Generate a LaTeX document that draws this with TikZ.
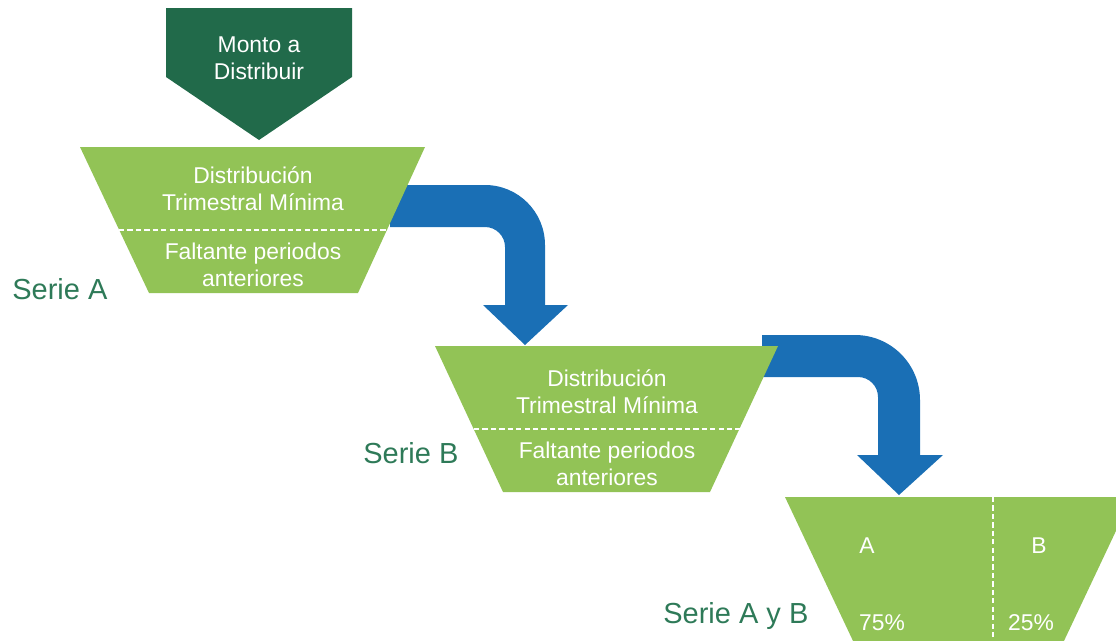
\documentclass[tikz,border=0pt]{standalone}
\usepackage{fontspec}
\setmainfont{Liberation Sans}
\definecolor{montogreen}{HTML}{216A4A}
\definecolor{funnelgreen}{HTML}{92C356}
\definecolor{flowblue}{HTML}{1A6FB5}
\definecolor{seriegreen}{HTML}{2E7A58}
\tikzset{
  intext/.style={text=white,font=\fontsize{13}{15.5}\selectfont,align=center,inner sep=0pt},
  serielabel/.style={text=seriegreen,font=\fontsize{16.5}{19}\selectfont,anchor=base west,inner sep=0pt},
  splitline/.style={white,line width=1.1pt,dash pattern=on 3pt off 1.8pt}
}
\begin{document}
\begin{tikzpicture}[x=0.02cm,y=-0.02cm]
    \clip (0,0) rectangle (1116,640);

    % monto a distribuir
    \fill[montogreen] (166,8) -- (352,8) -- (352,77) -- (259,140) -- (166,77) -- cycle;
    \node[intext] (monto) at (259,58) {Monto a\\Distribuir};

    % blue arrows behind the funnels
    \fill[flowblue] (390,185) -- (485,185) arc[start angle=270,end angle=360,radius=60]
        -- (545,305) -- (568,305) -- (525,345) -- (483,305) -- (505,305) -- (505,247)
        arc[start angle=0,end angle=-90,radius=20] -- (390,227) -- cycle;
    \fill[flowblue] (762,335) -- (855,335) arc[start angle=270,end angle=360,radius=65]
        -- (920,455) -- (943,455) -- (899,495) -- (857,455) -- (878,455) -- (878,397)
        arc[start angle=0,end angle=-90,radius=20] -- (762,377) -- cycle;

    % serie A
    \fill[funnelgreen] (80,147) -- (425,147) -- (358,293) -- (149,293) -- cycle;
    \draw[splitline] (119,230) -- (387,230);
    \node[intext] (minA) at (253,189) {Distribución\\Trimestral Mínima};
    \node[intext] (faltA) at (253,265) {Faltante periodos\\anteriores};
    \node[serielabel] (serieA) at (12,299) {Serie A};

    % serie B
    \fill[funnelgreen] (435,346) -- (778,346) -- (710,492) -- (503,492) -- cycle;
    \draw[splitline] (474,429) -- (740,429);
    \node[intext] (minB) at (607,392) {Distribución\\Trimestral Mínima};
    \node[intext] (faltB) at (607,464) {Faltante periodos\\anteriores};
    \node[serielabel] (serieB) at (363,463) {Serie B};

    % serie A y B
    \fill[funnelgreen] (785,497) -- (1132,497) -- (1063,643) -- (854,643) -- cycle;
    \draw[splitline] (993,497) -- (993,640);
    \node[intext] (shareA) at (867,546) {A};
    \node[intext] (shareB) at (1039,546) {B};
    \node[intext] (pctA) at (882,623) {75\%};
    \node[intext] (pctB) at (1031,623) {25\%};
    \node[serielabel] (serieAB) at (663,623) {Serie A y B};
\end{tikzpicture}
\end{document}
